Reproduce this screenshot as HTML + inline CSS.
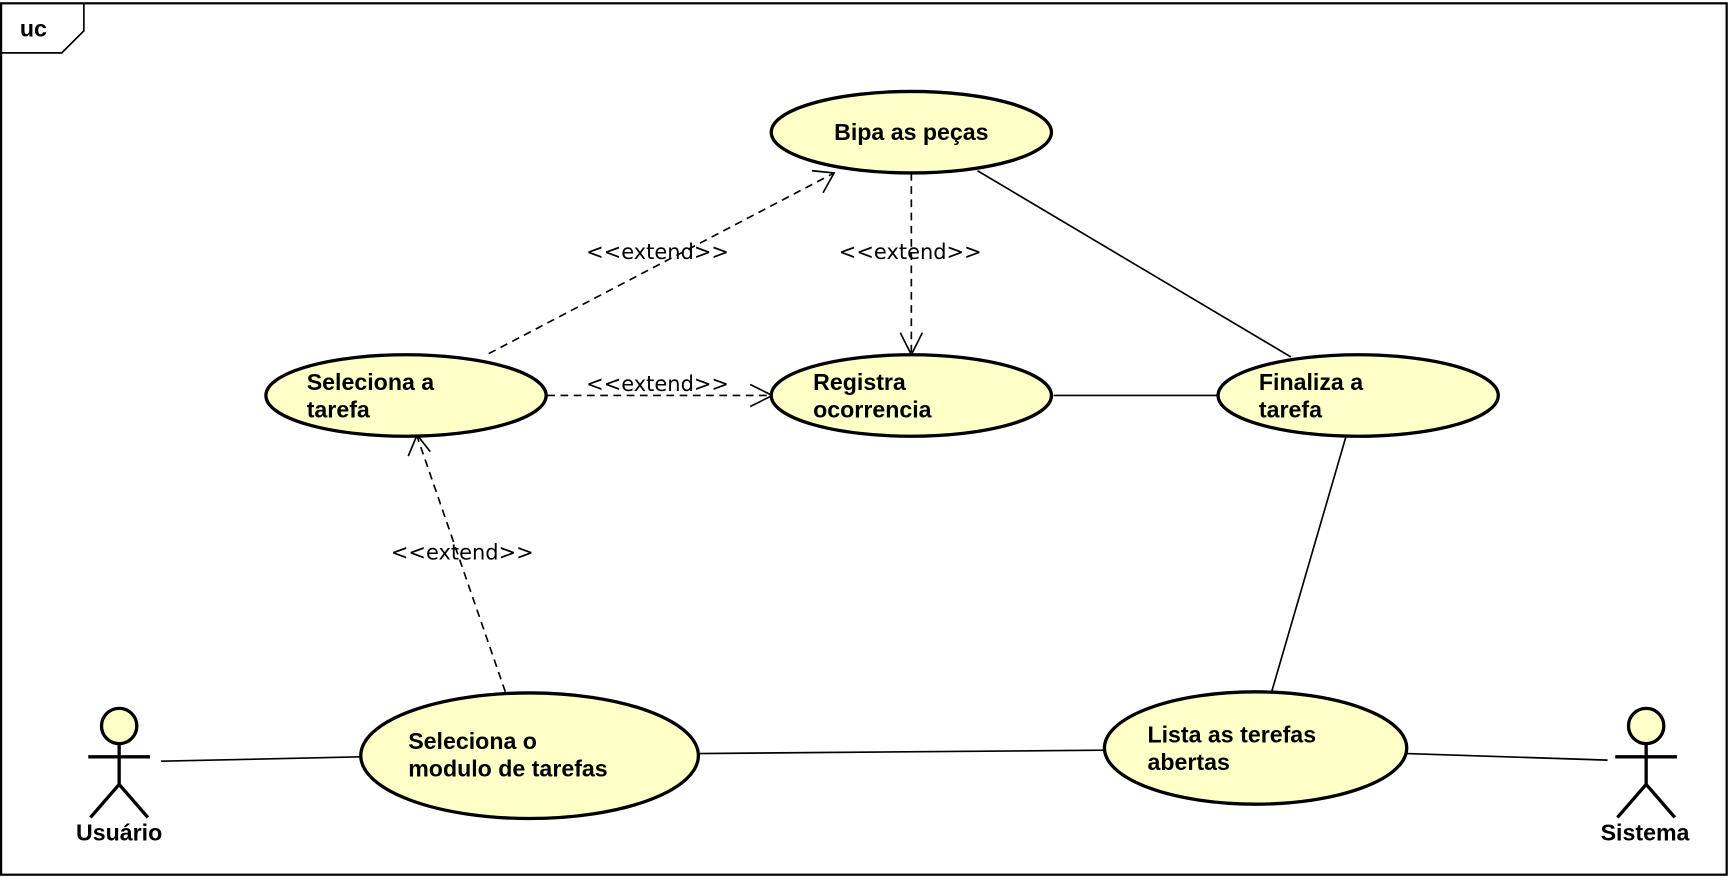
<!DOCTYPE html>
<html><head><meta charset="utf-8"><style>
html,body{margin:0;padding:0;background:#fff;}
svg{display:block;}
.b{font-family:"Liberation Sans",sans-serif;font-weight:bold;font-size:21px;fill:#000;}
.l{font-family:"DejaVu Sans","Liberation Sans",sans-serif;font-size:19px;fill:#000;}
</style></head><body>
<svg width="1730" height="878" viewBox="0 0 1568 797" preserveAspectRatio="none" xmlns="http://www.w3.org/2000/svg">
<rect x="1" y="3" width="1564" height="791" fill="#fff" stroke="#000" stroke-width="2"/>
<polyline points="1,48 56,48 76,28 76,3" fill="none" stroke="#000" stroke-width="1.5"/>
<text x="18" y="33" class="b">uc</text>
<g stroke="#000" stroke-width="1.5" fill="none">
<line x1="886" y1="155" x2="1170" y2="324"/>
<line x1="955" y1="359" x2="1104" y2="359"/>
<line x1="1220" y1="396" x2="1152" y2="630"/>
<line x1="146" y1="691" x2="327" y2="687"/>
<line x1="634" y1="684" x2="1001" y2="681"/>
<line x1="1275" y1="684" x2="1457" y2="690"/>
</g>
<g stroke="#000" stroke-width="1.5" fill="none" stroke-dasharray="7,5">
<line x1="443" y1="321" x2="756" y2="157"/>
<line x1="826" y1="157" x2="826" y2="322"/>
<line x1="496" y1="359" x2="698" y2="359"/>
<line x1="458" y1="628" x2="378" y2="396"/>
</g>
<g stroke="#000" stroke-width="1.5" fill="none">
<polyline points="736,155 756,157 746,175"/>
<polyline points="816,302 826,322 836,302"/>
<polyline points="680,349 700,359 680,369"/>
<polyline points="370,414 378,395 390,410"/>
</g>
<text x="596" y="235" class="l" text-anchor="middle">&lt;&lt;extend&gt;&gt;</text>
<text x="825" y="235" class="l" text-anchor="middle">&lt;&lt;extend&gt;&gt;</text>
<text x="596" y="355" class="l" text-anchor="middle">&lt;&lt;extend&gt;&gt;</text>
<text x="419" y="508" class="l" text-anchor="middle">&lt;&lt;extend&gt;&gt;</text>
<g fill="#ffffc8" stroke="#000" stroke-width="3">
<ellipse cx="826" cy="120" rx="127" ry="37"/>
<ellipse cx="368" cy="359" rx="127" ry="37"/>
<ellipse cx="826" cy="359" rx="127" ry="37"/>
<ellipse cx="1231" cy="359" rx="127" ry="37"/>
<ellipse cx="480" cy="686" rx="153" ry="57"/>
<ellipse cx="1138" cy="679" rx="137" ry="51"/>
</g>
<text x="826" y="127" class="b" text-anchor="middle">Bipa as peças</text>
<text x="278" y="354" class="b">Seleciona a</text>
<text x="278" y="379" class="b">tarefa</text>
<text x="737" y="354" class="b">Registra</text>
<text x="737" y="379" class="b">ocorrencia</text>
<text x="1141" y="354" class="b">Finaliza a</text>
<text x="1141" y="379" class="b">tarefa</text>
<text x="370" y="680" class="b">Seleciona o</text>
<text x="370" y="705" class="b">modulo de tarefas</text>
<text x="1040" y="674" class="b">Lista as terefas</text>
<text x="1040" y="699" class="b">abertas</text>
<g stroke="#000" stroke-width="3" fill="none">
<circle cx="108" cy="659" r="16" fill="#ffffc8"/>
<line x1="108" y1="675" x2="108" y2="712"/>
<line x1="80" y1="687" x2="136" y2="687"/>
<polyline points="82,742 108,712 134,742"/>
<circle cx="1492" cy="659" r="16" fill="#ffffc8"/>
<line x1="1492" y1="675" x2="1492" y2="712"/>
<line x1="1464" y1="687" x2="1520" y2="687"/>
<polyline points="1466,742 1492,712 1518,742"/>
</g>
<text x="108" y="763" class="b" text-anchor="middle">Usuário</text>
<text x="1491" y="763" class="b" text-anchor="middle">Sistema</text>
</svg>
</body></html>
